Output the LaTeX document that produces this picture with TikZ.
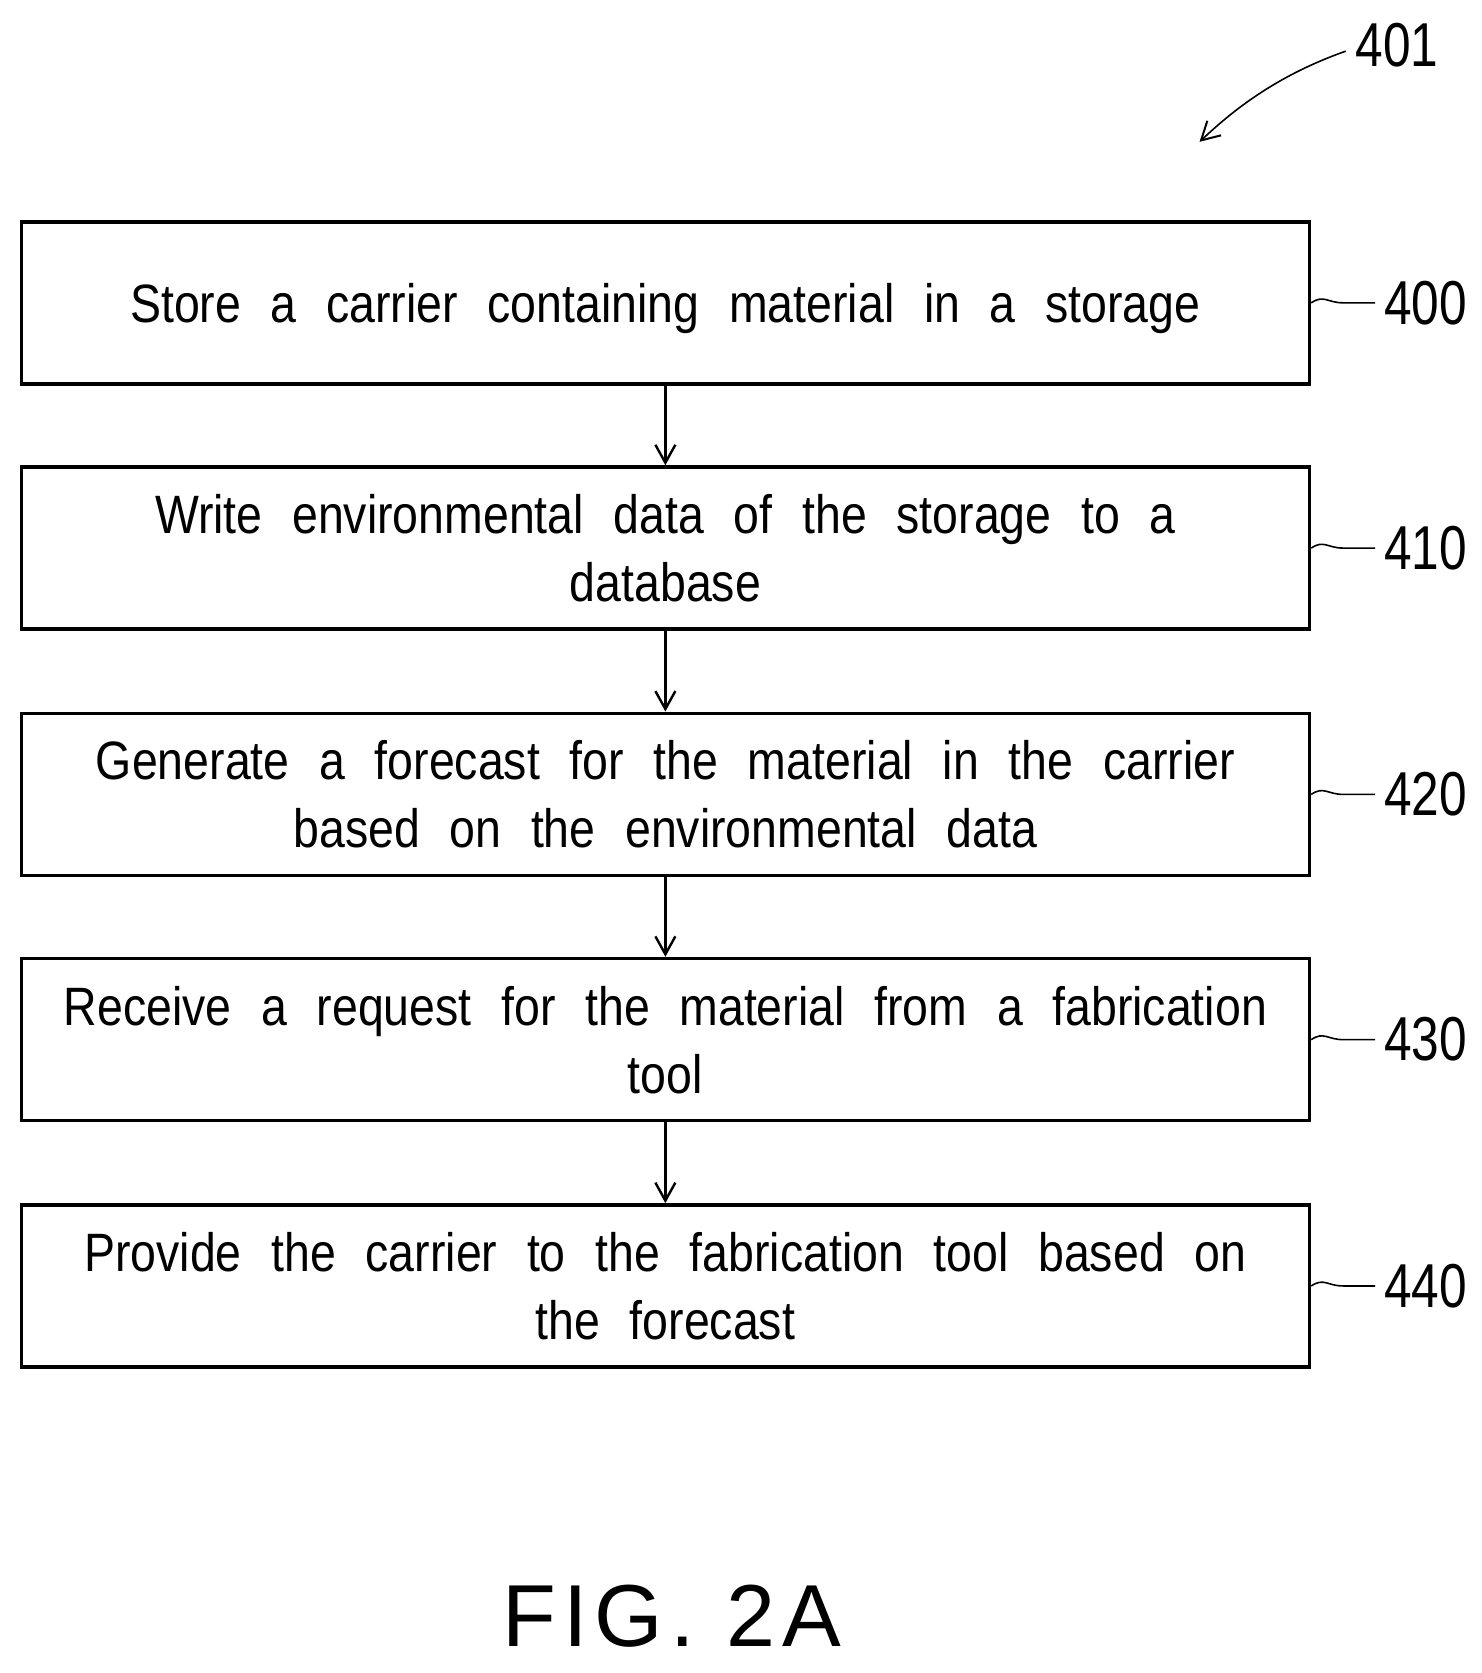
\documentclass[tikz,border=0pt]{standalone}
\usepackage{fontspec}
\setmainfont{Liberation Sans}[FakeStretch=0.86]
\newfontfamily\numfont{Liberation Sans}[FakeStretch=0.8]
\newfontfamily\figfont{Liberation Sans}[LetterSpace=8]
\usetikzlibrary{arrows.meta}
\begin{document}
\begin{tikzpicture}[x=0.533pt,y=-0.533pt,
  box/.style={draw,line width=1.8pt,minimum width=1208*0.533pt,minimum height=152*0.533pt,align=center,inner sep=0pt,font=\fontsize{27}{34}\selectfont,text depth=0pt},
  num/.style={font=\numfont\fontsize{31}{31}\selectfont,anchor=west,inner sep=0pt},
  arr/.style={line width=1.2pt,-{Straight Barb[length=9pt,width=10pt,line width=1.2pt]}},
  lead/.style={line width=0.8pt}]
\useasboundingbox (0,0) rectangle (1389,1569);
\def\s{\hspace{0.55em}}
\node[box] (b0) at (624,284) {Store\s a\s carrier\s containing\s material\s in\s a\s storage};
\node[box] (b1) at (624,514) {Write\s environmental\s data\s of\s the\s storage\s to\s a\\database};
\node[box] (b2) at (624,745) {Generate\s a\s forecast\s for\s the\s material\s in\s the\s carrier\\based\s on\s the\s environmental\s data};
\node[box] (b3) at (624,975) {Receive\s a\s request\s for\s the\s material\s from\s a\s fabrication\\tool};
\node[box] (b4) at (624,1206) {Provide\s the\s carrier\s to\s the\s fabrication\s tool\s based\s on\\the\s forecast};
\foreach \a/\b in {b0/b1,b1/b2,b2/b3,b3/b4} \draw[arr] (\a.south) -- (\b.north);
\foreach \b/\n in {b0/400,b1/410,b2/420,b3/430,b4/440}{
  \node[num] (n\n) at ([xshift=68*0.533pt]\b.east) {\n};
  \draw[lead] (\b.east) .. controls +(12,-8) and +(-15,0) .. ++(30,0) .. controls +(15,0) and +(-8,0) .. ([xshift=-8*0.533pt]n\n.west);
}
\node[num,anchor=center] (n401) at (1310,42) {401};
\coordinate (t401) at (1125,133);
\draw[line width=0.8pt,-{Straight Barb[length=9pt,width=10pt,line width=1pt]}] (1262,48) .. controls (1200,70) and (1160,100) .. (t401);
\node[font=\figfont\fontsize{44}{44}\selectfont] (fig) at (630,1516) {FIG.\ 2A};
\end{tikzpicture}
\end{document}
